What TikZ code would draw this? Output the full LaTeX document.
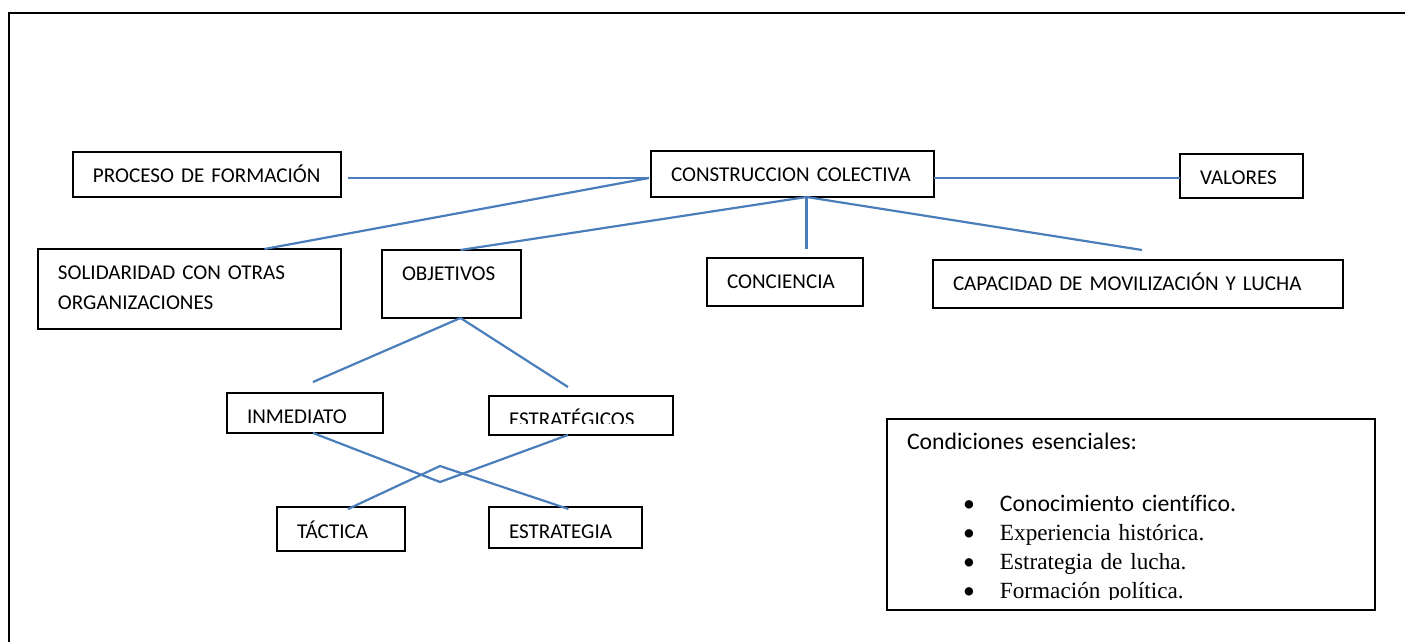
\documentclass[tikz,border=0pt]{standalone}
\usepackage{fontspec}
\setmainfont{Carlito}[Ligatures=NoCommon]
\newfontfamily\timesfont{Liberation Serif}
\usepackage{tikz}
\usetikzlibrary{positioning, calc}
\definecolor{linea}{RGB}{74,126,187}

\begin{document}
\begin{tikzpicture}[x=0.02cm, y=-0.02cm, every node/.style={font=\fontsize{12pt}{16.6pt}\selectfont}]

	\tikzstyle{block} = [rectangle, draw, anchor=north west, align=left, inner xsep=0.4cm, inner ysep=0pt, outer sep=0pt, text height=0.62cm, line width=0.8pt]
	\tikzstyle{line} = [draw, linea, line width=1.25pt]
	\tikzstyle{marco} = [draw, line width=1.2pt]
	\newcommand{\punto}{\hspace*{1.12cm}\makebox[0.74cm][l]{\textbullet}}
	\newcommand{\serifo}{\timesfont\fontsize{13.2pt}{16.6pt}\selectfont}

	\useasboundingbox (0,0) rectangle (1405,642);
	\draw [marco] (9,642) -- (9,13) -- (1405,13);

	% first row
	\node [block, text width=4.56cm, text depth=0.28cm] (proc) at (73,152) {PROCESO DE FORMACIÓN};
	\node [block, text width=4.86cm, text depth=0.30cm] (cc) at (651,151) {CONSTRUCCION COLECTIVA};
	\node [block, text width=1.66cm, text depth=0.26cm] (val) at (1180,154) {VALORES};

	% second row
	\node [block, text width=5.26cm, text depth=0.98cm] (sol) at (38,249) {SOLIDARIDAD CON OTRAS\\ORGANIZACIONES};
	\node [block, text width=1.98cm, text depth=0.74cm] (obj) at (382,250) {OBJETIVOS};
	\node [block, text width=2.32cm, text depth=0.34cm] (conc) at (707,258) {CONCIENCIA};
	\node [block, text width=7.4cm, text depth=0.34cm] (cap) at (933,260) {CAPACIDAD DE MOVILIZACIÓN Y LUCHA};

	% objetivos
	\node [block, text width=2.32cm, text depth=0.18cm] (inm) at (227,393) {INMEDIATO};
	\node [block, text width=2.88cm, text depth=0.16cm] (est) at (489,396) {};
	\begin{scope}
		\clip (est.north west) rectangle ($(est.south east)+(0,-11)$);
		\node [block, draw=none, text width=2.88cm, text depth=0.16cm] (est-txt) at (489,396) {ESTRATÉGICOS};
	\end{scope}
	\node [block, text width=1.76cm, text depth=0.26cm] (tac) at (277,507) {TÁCTICA};
	\node [block, text width=2.26cm, text depth=0.20cm] (estg) at (489,507) {ESTRATEGIA};

	% condiciones
	\node [block, text width=8.96cm, text depth=3.2cm] (cond) at (887,419) {};
	\begin{scope}
		\clip (cond.north west) rectangle ($(cond.south east)+(0,-10)$);
		\node [block, draw=none, text width=8.96cm, text depth=3.2cm, font=\fontsize{13.5pt}{16.6pt}\selectfont] (cond-txt) at (887,419) {Condiciones esenciales:\\[0.646cm]
			\punto Conocimiento científico.\\
			\punto{\serifo Experiencia histórica.}\\
			\punto{\serifo Estrategia de lucha.}\\
			\punto{\serifo Formación política.}};
	\end{scope}

	\coordinate (ccw) at ($(cc.west)+(-2,4)$);
	\coordinate (cce) at ($(cc.east)+(0,4)$);
	\coordinate (ccs) at ($(cc.south)+(14,0)$);
	\coordinate (objs) at ($(obj.south)+(9,0)$);
	\coordinate (xlow) at (440,482);
	\coordinate (xhigh) at (440,466);

	\path [line, shorten >=0.14cm] (ccw) -- (ccw -| proc.east);
	\path [line] (ccw) -- ($(sol.north)+(75,0)$);
	\path [line] (cce) -- (cce -| val.west);
	\path [line] (ccs) -- ($(obj.north)+(9,0)$);
	\path [line, shorten >=0.18cm] (ccs) -- (ccs |- conc.north);
	\path [line] (ccs) -- ($(cap.north)+(4,-10)$);
	\path [line] (objs) -- ($(inm.north)+(8,-11)$);
	\path [line] (objs) -- ($(est.north)+(-13,-9)$);
	\path [line] ($(inm.south)+(8,0)$) -- (xlow) -- ($(est.south)+(-13,0)$);
	\path [line] ($(tac.north)+(7,2)$) -- (xhigh) -- ($(estg.north)+(3,2)$);
\end{tikzpicture}
\end{document}
